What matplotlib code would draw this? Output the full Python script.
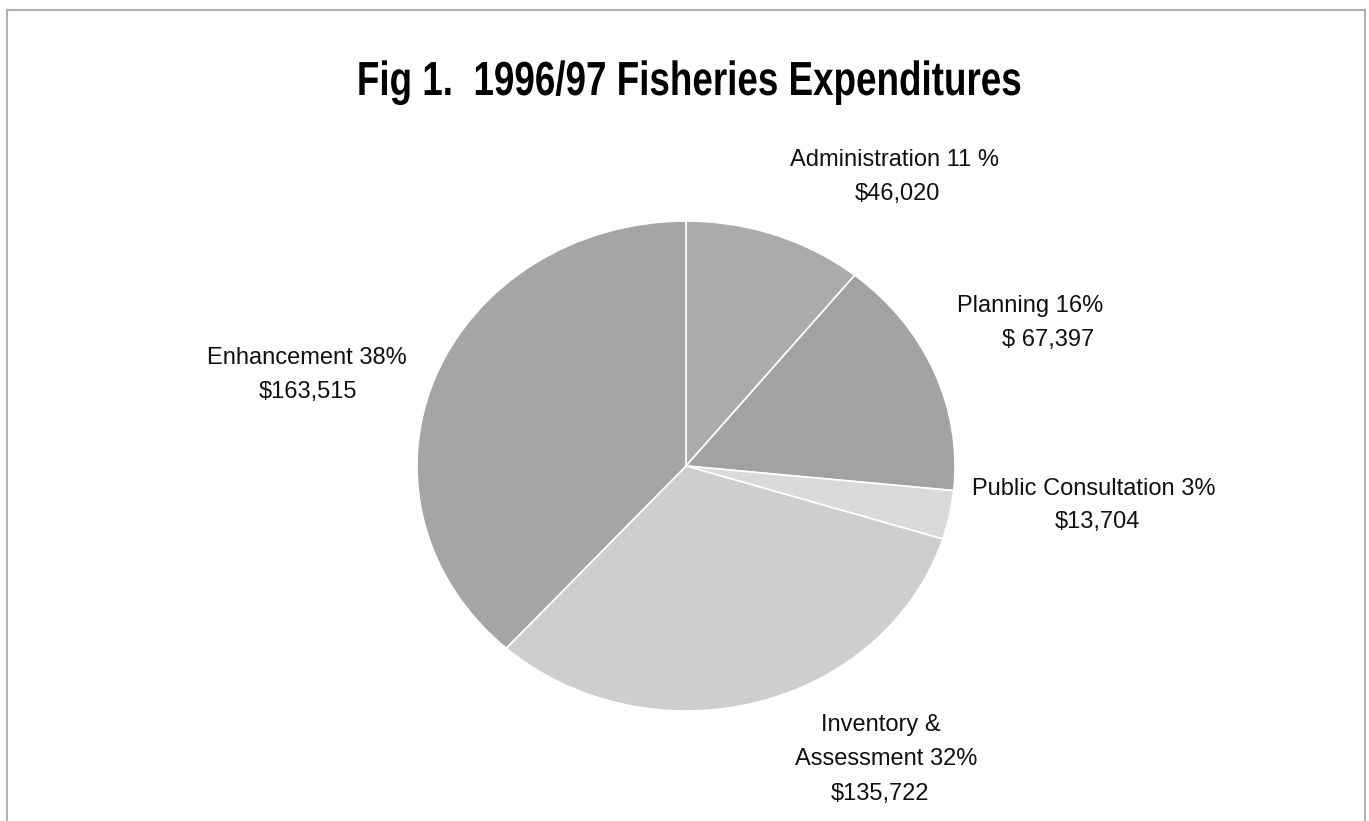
import matplotlib
matplotlib.use("Agg")
import matplotlib.pyplot as plt
from matplotlib.patheffects import AbstractPathEffect
from matplotlib.transforms import Affine2D

categories = ["Administration", "Planning", "Public Consultation",
              "Inventory & Assessment", "Enhancement"]
values = [46020, 67397, 13704, 135722, 163515]
label_lines = [
    ["Administration 11 %", "$46,020"],
    ["Planning 16%", "$ 67,397"],
    ["Public Consultation 3%", "$13,704"],
    ["Inventory &", "Assessment 32%", "$135,722"],
    ["Enhancement 38%", "$163,515"],
]
colors = ["#ababab", "#a2a2a2", "#dadada", "#cecece", "#a5a5a5"]


class VStretch(AbstractPathEffect):
    """Stretch glyph outlines vertically about a baseline (display px)."""
    def __init__(self, sy, y0):
        super().__init__()
        self.sy, self.y0 = sy, y0

    def draw_path(self, renderer, gc, tpath, affine, rgbFace=None):
        t = affine + Affine2D().translate(0, -self.y0).scale(1, self.sy).translate(0, self.y0)
        renderer.draw_path(gc, tpath, t, rgbFace)


W, H = 1369, 821
fig = plt.figure(figsize=(W / 100, H / 100), dpi=100)
fig.patch.set_facecolor("white")

# frame lines
fc = "#b0b0b0"
fig.add_artist(plt.Line2D([7 / W, 7 / W], [0, 1 - 10 / H], color=fc, lw=1.5))
fig.add_artist(plt.Line2D([1365 / W, 1365 / W], [0, 1 - 10 / H], color=fc, lw=1.5))
fig.add_artist(plt.Line2D([7 / W, 1365 / W], [1 - 10 / H, 1 - 10 / H], color=fc, lw=1.5))

# pie axes (ellipse)
cx, cy, rx, ry = 686, 466, 269, 245
ax = fig.add_axes([(cx - rx) / W, 1 - (cy + ry) / H, 2 * rx / W, 2 * ry / H])
ax.pie(values, colors=colors, startangle=90, counterclock=False,
       wedgeprops=dict(edgecolor="white", linewidth=1.2))
ax.set_aspect("auto")
ax.set_xlim(-1, 1)
ax.set_ylim(-1, 1)
ax.axis("off")

title_base = 95
fig.text(689 / W, 1 - title_base / H, "Fig 1.  1996/97 Fisheries Expenditures",
         ha="center", va="baseline", fontsize=26.5, fontweight="bold",
         family="Liberation Sans",
         path_effects=[VStretch(1.3, H - title_base)])

# label positions (pixel centers of each text line)
label_pos = [
    [(895, 160), (897, 194)],
    [(1030, 306), (1048, 340)],
    [(1094, 489), (1097, 522)],
    [(881, 725), (886, 759), (880, 794)],
    [(307, 358), (308, 392)],
]
for lines, pos in zip(label_lines, label_pos):
    for t, (x, y) in zip(lines, pos):
        fig.text(x / W, 1 - y / H, t, ha="center", va="center",
                 fontsize=17, family="Liberation Sans", color="#111111")

fig.savefig("out.png", dpi=100, facecolor="white")
